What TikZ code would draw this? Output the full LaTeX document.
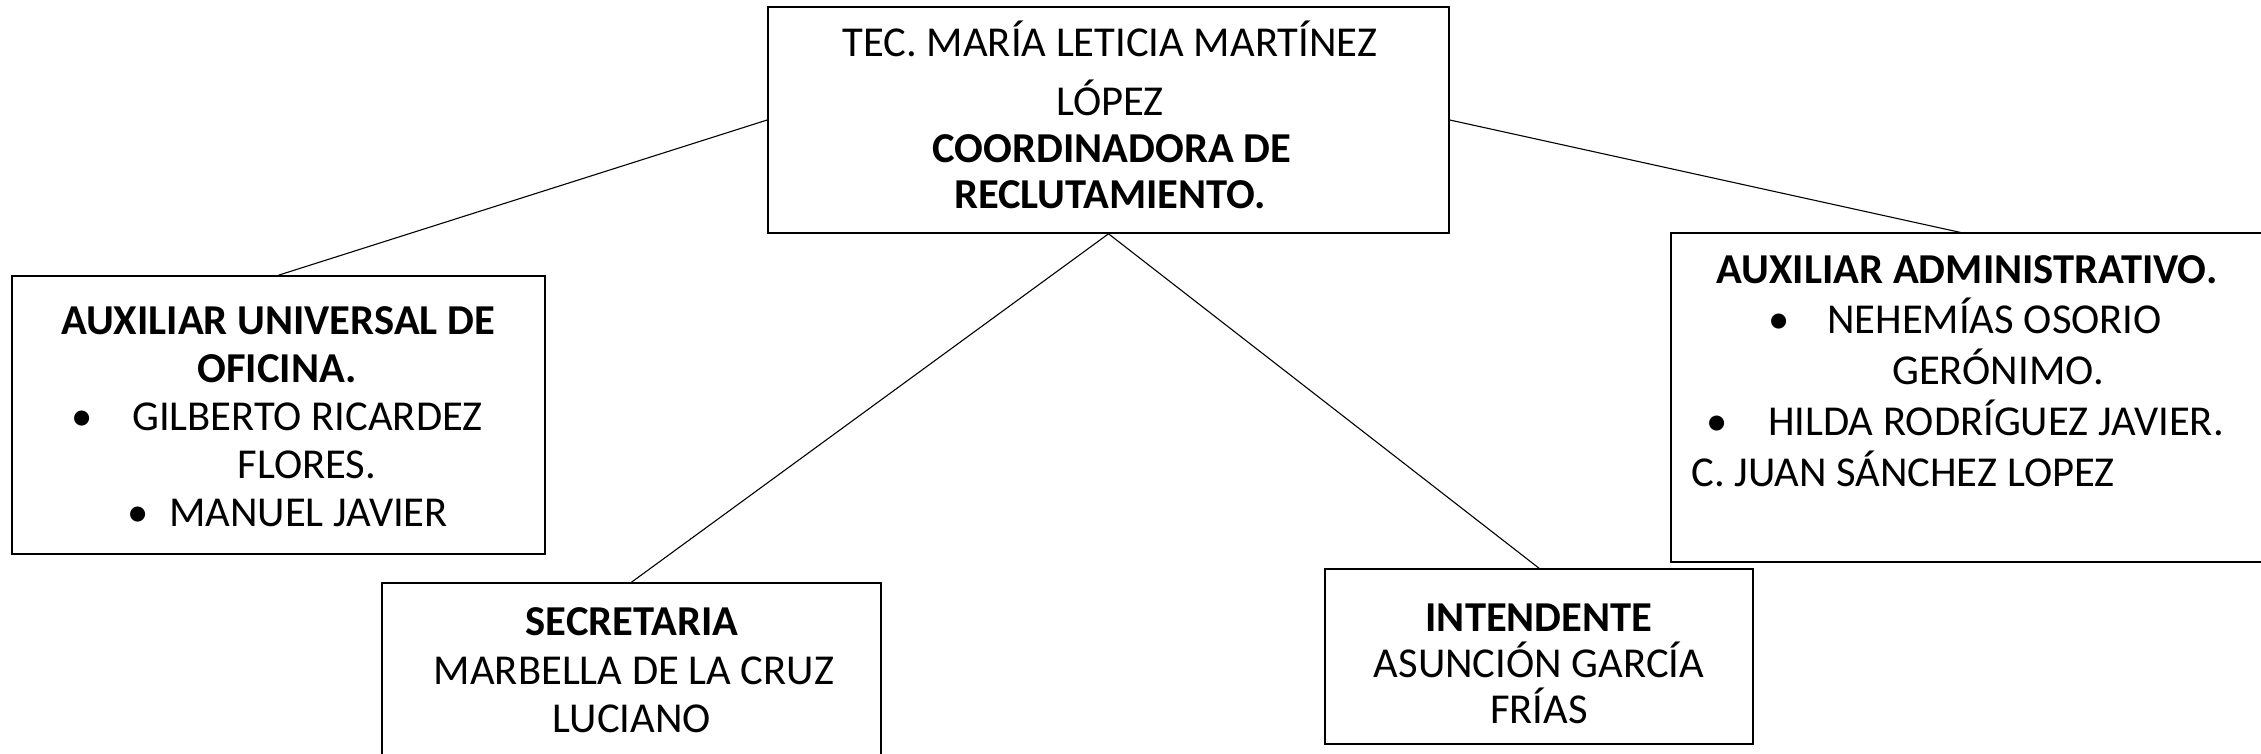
\documentclass[tikz,border=0pt]{standalone}
\usepackage{fontspec}
\setmainfont{Carlito}
\begin{document}
\begin{tikzpicture}[x=0.5pt,y=-0.5pt,
  box/.style={draw, line width=0.8pt, inner sep=0pt, rectangle},
  link/.style={draw, line width=0.55pt},
  txt/.style={inner sep=0pt, anchor=base, font=\fontsize{21.3pt}{25pt}\selectfont},
  btxt/.style={txt, font=\fontsize{21.3pt}{25pt}\selectfont\bfseries},
  bul/.style={txt}]
\useasboundingbox (0,0) rectangle (2261,754);
\clip (0,0) rectangle (2261,754);
% boxes
\node[box, minimum width=340.5pt, minimum height=113pt] (top) at (1108.5,120) {};
\node[box, minimum width=266.5pt, minimum height=139pt] (left) at (278.5,415) {};
\node[box, minimum width=249.5pt, minimum height=108.5pt] (sec) at (631.5,691.5) {};
\node[box, minimum width=214pt, minimum height=87.5pt] (int) at (1539,656.5) {};
\node[box, minimum width=314.5pt, minimum height=164.5pt] (right) at (1985.5,397.5) {};
\coordinate (rj) at (1963,233);
% connectors
\draw[link] (top.west) -- (left.north);
\draw[link] (top.east) -- (rj);
\draw[link] (top.south) -- (sec.north);
\draw[link] (top.south) -- (int.north);
% top text
\node[txt] (t1) at (1110,57) {TEC. MARÍA LETICIA MARTÍNEZ};
\node[txt] (t2) at (1110,116) {LÓPEZ};
\node[btxt] (t3) at (1112,163) {COORDINADORA DE};
\node[btxt] (t4) at (1110,209) {RECLUTAMIENTO.};
% left text
\node[btxt] (l1) at (278,335) {AUXILIAR UNIVERSAL DE};
\node[btxt] (l2) at (277,383) {OFICINA.};
\node[bul] (lb1) at (82,430) {•};
\node[txt] (l3) at (307.5,430) {GILBERTO RICARDEZ};
\node[txt] (l4) at (307,478) {FLORES.};
\node[bul] (lb2) at (138,526) {•};
\node[txt] (l5) at (308.5,526) {MANUEL JAVIER};
% secretaria
\node[btxt] (s1) at (632,635) {SECRETARIA};
\node[txt] (s2) at (634,684) {MARBELLA DE LA CRUZ};
\node[txt] (s3) at (632,732) {LUCIANO};
% intendente
\node[btxt] (i1) at (1539,631) {INTENDENTE};
\node[txt] (i2) at (1539,677) {ASUNCIÓN GARCÍA};
\node[txt] (i3) at (1539,723) {FRÍAS};
% right text
\node[btxt] (r1) at (1967,284) {AUXILIAR ADMINISTRATIVO.};
\node[bul] (rb1) at (1779,334) {•};
\node[txt] (r2) at (1994.5,334) {NEHEMÍAS OSORIO};
\node[txt] (r3) at (1998,385) {GERÓNIMO.};
\node[bul] (rb2) at (1717,436) {•};
\node[txt] (r4) at (1996,436) {HILDA RODRÍGUEZ JAVIER.};
\node[txt, anchor=base west] (r5) at (1691,486) {C. JUAN SÁNCHEZ LOPEZ};
\end{tikzpicture}
\end{document}
